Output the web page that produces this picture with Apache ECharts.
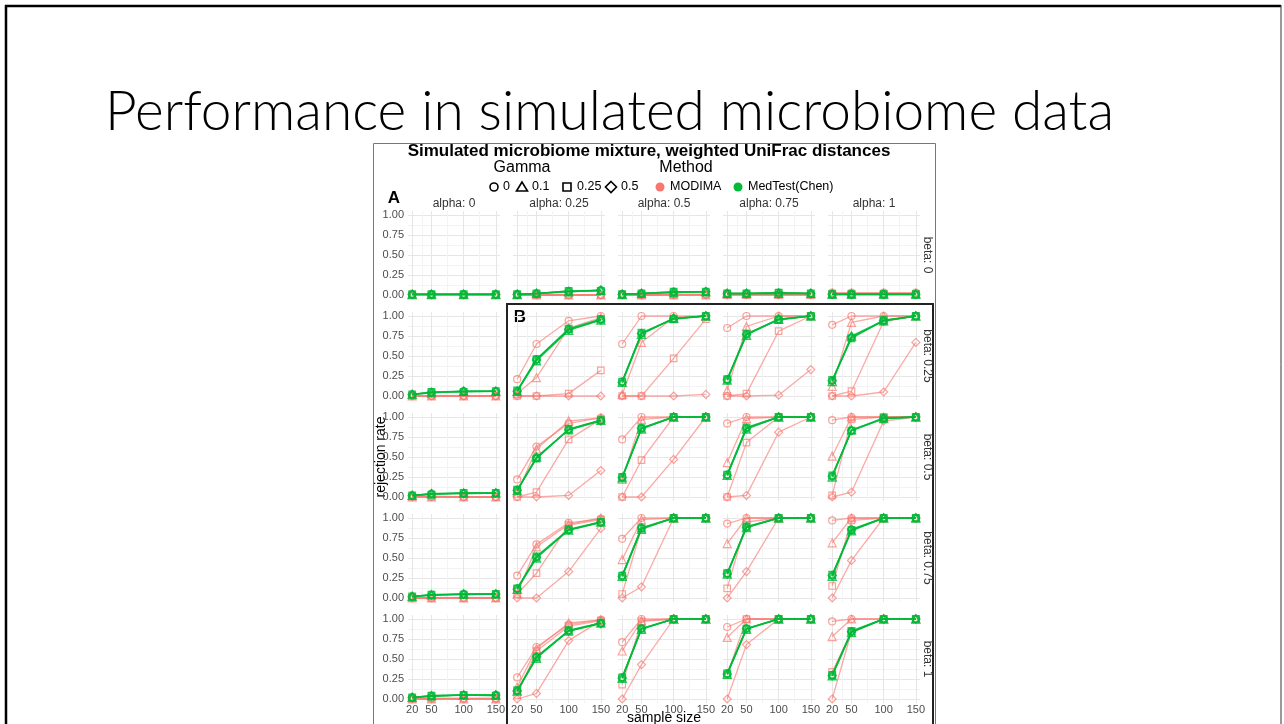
<!DOCTYPE html>
<html><head><meta charset="utf-8">
<script src="https://cdn.jsdelivr.net/npm/echarts@6/dist/echarts.min.js"></script>
<style>html,body{margin:0;padding:0;background:#fff}#c{width:1284px;height:724px}</style>
</head><body><div id="c"></div>
<script>
// ---------------- data ----------------
const sampleSizes = [20, 50, 100, 150];
const xMinorBreaks = [35, 75, 125];
const yTicks = [0, 0.25, 0.5, 0.75, 1];
const yMinorBreaks = [0.125, 0.375, 0.625, 0.875];
const alphaLabels = ['alpha: 0', 'alpha: 0.25', 'alpha: 0.5', 'alpha: 0.75', 'alpha: 1'];
const betaLabels = ['beta: 0', 'beta: 0.25', 'beta: 0.5', 'beta: 0.75', 'beta: 1'];
const gammaLevels = ['0', '0.1', '0.25', '0.5'];
const methodNames = ['MODIMA', 'MedTest(Chen)'];

// index: [alpha][gamma][sample size]
const modimaBeta0 = [
  [[0.00,0.00,0.00,0.00],[0.00,0.00,0.00,0.00],[0.00,0.00,0.00,0.00],[0.00,0.00,0.00,0.00]],
  [[0.00,0.00,0.00,0.00],[0.00,0.00,0.00,0.00],[0.00,0.00,0.00,0.00],[0.00,0.00,0.00,0.00]],
  [[0.01,0.00,0.01,0.01],[0.00,0.00,0.00,0.00],[0.00,0.00,0.00,0.00],[0.00,0.00,0.00,0.00]],
  [[0.01,0.01,0.01,0.01],[0.01,0.01,0.01,0.01],[0.00,0.00,0.00,0.00],[0.00,0.00,0.00,0.00]],
  [[0.03,0.03,0.03,0.03],[0.02,0.02,0.02,0.02],[0.01,0.01,0.01,0.01],[0.00,0.00,0.00,0.00]]
];
const medtestBeta0 = [
  [[0.01,0.01,0.01,0.01],[0.01,0.01,0.01,0.01],[0.01,0.01,0.01,0.01],[0.01,0.01,0.01,0.01]],
  [[0.01,0.02,0.05,0.06],[0.01,0.02,0.04,0.06],[0.01,0.02,0.05,0.05],[0.01,0.02,0.04,0.06]],
  [[0.01,0.02,0.04,0.04],[0.01,0.02,0.03,0.04],[0.01,0.02,0.04,0.04],[0.01,0.02,0.03,0.04]],
  [[0.02,0.02,0.03,0.02],[0.02,0.02,0.02,0.02],[0.02,0.02,0.03,0.02],[0.02,0.02,0.02,0.02]],
  [[0.01,0.01,0.01,0.01],[0.01,0.01,0.01,0.01],[0.01,0.01,0.01,0.01],[0.01,0.01,0.01,0.01]]
];
const modimaBeta025 = [
  [[0.00,0.00,0.00,0.00],[0.00,0.00,0.00,0.00],[0.00,0.00,0.00,0.00],[0.00,0.00,0.00,0.00]],
  [[0.21,0.65,0.94,1.00],[0.03,0.23,0.85,0.98],[0.00,0.00,0.03,0.32],[0.00,0.00,0.00,0.00]],
  [[0.65,1.00,1.00,1.00],[0.02,0.67,0.98,1.00],[0.00,0.00,0.47,0.96],[0.00,0.00,0.00,0.02]],
  [[0.85,1.00,1.00,1.00],[0.07,0.87,1.00,1.00],[0.00,0.03,0.81,1.00],[0.00,0.00,0.01,0.33]],
  [[0.89,1.00,1.00,1.00],[0.12,0.92,1.00,1.00],[0.00,0.06,0.93,1.00],[0.00,0.00,0.05,0.67]]
];
const medtestBeta025 = [
  [[0.02,0.05,0.06,0.06],[0.02,0.04,0.06,0.06],[0.02,0.05,0.05,0.06],[0.02,0.04,0.06,0.06]],
  [[0.06,0.46,0.83,0.96],[0.06,0.44,0.82,0.95],[0.07,0.46,0.84,0.96],[0.06,0.45,0.83,0.95]],
  [[0.18,0.78,0.97,1.00],[0.17,0.77,0.97,1.00],[0.18,0.79,0.96,1.00],[0.17,0.78,0.97,1.00]],
  [[0.21,0.77,0.96,1.00],[0.20,0.76,0.96,1.00],[0.21,0.78,0.95,1.00],[0.20,0.77,0.96,1.00]],
  [[0.19,0.73,0.94,1.00],[0.18,0.75,0.94,1.00],[0.20,0.72,0.95,1.00],[0.19,0.74,0.94,1.00]]
];
const modimaBeta05 = [
  [[0.01,0.01,0.00,0.00],[0.00,0.00,0.00,0.00],[0.00,0.00,0.00,0.00],[0.00,0.00,0.00,0.00]],
  [[0.22,0.63,0.92,0.99],[0.05,0.60,0.95,0.99],[0.00,0.06,0.72,0.97],[0.00,0.00,0.02,0.33]],
  [[0.72,1.00,1.00,1.00],[0.22,0.97,1.00,1.00],[0.00,0.46,1.00,1.00],[0.00,0.00,0.47,1.00]],
  [[0.92,1.00,1.00,1.00],[0.43,0.98,1.00,1.00],[0.00,0.68,1.00,1.00],[0.00,0.02,0.81,1.00]],
  [[0.96,1.00,1.00,1.00],[0.51,1.00,1.00,1.00],[0.02,0.97,1.00,1.00],[0.00,0.06,0.95,1.00]]
];
const medtestBeta05 = [
  [[0.02,0.04,0.05,0.05],[0.02,0.04,0.05,0.05],[0.02,0.03,0.05,0.05],[0.02,0.04,0.04,0.05]],
  [[0.09,0.49,0.84,0.96],[0.08,0.50,0.84,0.96],[0.09,0.48,0.85,0.96],[0.08,0.49,0.84,0.95]],
  [[0.25,0.86,1.00,1.00],[0.24,0.85,1.00,1.00],[0.25,0.86,1.00,1.00],[0.24,0.86,1.00,1.00]],
  [[0.28,0.86,1.00,1.00],[0.27,0.85,1.00,1.00],[0.28,0.87,1.00,1.00],[0.27,0.86,1.00,1.00]],
  [[0.26,0.83,0.98,1.00],[0.25,0.84,0.98,1.00],[0.27,0.83,0.99,1.00],[0.26,0.83,0.98,1.00]]
];
const modimaBeta075 = [
  [[0.00,0.00,0.00,0.00],[0.00,0.00,0.00,0.00],[0.00,0.00,0.00,0.00],[0.00,0.00,0.00,0.00]],
  [[0.28,0.67,0.94,0.99],[0.05,0.64,0.92,1.00],[0.05,0.31,0.91,0.98],[0.00,0.00,0.33,0.87]],
  [[0.74,1.00,1.00,1.00],[0.48,0.98,1.00,1.00],[0.05,0.87,1.00,1.00],[0.00,0.14,1.00,1.00]],
  [[0.93,1.00,1.00,1.00],[0.68,1.00,1.00,1.00],[0.12,0.95,1.00,1.00],[0.00,0.33,1.00,1.00]],
  [[0.97,1.00,1.00,1.00],[0.69,1.00,1.00,1.00],[0.15,0.97,1.00,1.00],[0.00,0.47,1.00,1.00]]
];
const medtestBeta075 = [
  [[0.02,0.04,0.05,0.05],[0.02,0.04,0.05,0.05],[0.02,0.04,0.04,0.05],[0.02,0.03,0.05,0.05]],
  [[0.12,0.51,0.85,0.95],[0.11,0.50,0.85,0.95],[0.12,0.52,0.86,0.95],[0.11,0.51,0.85,0.94]],
  [[0.28,0.87,1.00,1.00],[0.27,0.86,1.00,1.00],[0.28,0.87,1.00,1.00],[0.27,0.88,1.00,1.00]],
  [[0.31,0.89,1.00,1.00],[0.30,0.88,1.00,1.00],[0.31,0.89,1.00,1.00],[0.30,0.88,1.00,1.00]],
  [[0.28,0.85,1.00,1.00],[0.27,0.84,1.00,1.00],[0.29,0.85,1.00,1.00],[0.28,0.86,1.00,1.00]]
];
const modimaBeta1 = [
  [[0.01,0.01,0.01,0.01],[0.00,0.00,0.00,0.00],[0.00,0.00,0.00,0.00],[0.00,0.00,0.00,0.00]],
  [[0.27,0.65,0.93,0.99],[0.15,0.63,0.95,0.99],[0.05,0.60,0.91,0.98],[0.00,0.07,0.73,0.98]],
  [[0.71,1.00,1.00,1.00],[0.60,0.98,1.00,1.00],[0.18,0.97,1.00,1.00],[0.00,0.43,1.00,1.00]],
  [[0.90,1.00,1.00,1.00],[0.77,1.00,1.00,1.00],[0.30,1.00,1.00,1.00],[0.00,0.68,1.00,1.00]],
  [[0.97,1.00,1.00,1.00],[0.78,1.00,1.00,1.00],[0.34,0.84,1.00,1.00],[0.00,0.84,1.00,1.00]]
];
const medtestBeta1 = [
  [[0.02,0.04,0.05,0.05],[0.02,0.04,0.05,0.05],[0.02,0.04,0.05,0.04],[0.02,0.03,0.05,0.05]],
  [[0.10,0.52,0.85,0.95],[0.10,0.51,0.85,0.95],[0.11,0.52,0.86,0.95],[0.10,0.53,0.85,0.94]],
  [[0.27,0.88,1.00,1.00],[0.26,0.87,1.00,1.00],[0.27,0.88,1.00,1.00],[0.26,0.88,1.00,1.00]],
  [[0.32,0.88,1.00,1.00],[0.31,0.87,1.00,1.00],[0.32,0.88,1.00,1.00],[0.31,0.88,1.00,1.00]],
  [[0.30,0.84,1.00,1.00],[0.29,0.83,1.00,1.00],[0.30,0.85,1.00,1.00],[0.29,0.84,1.00,1.00]]
];

const modimaByBeta = [modimaBeta0, modimaBeta025, modimaBeta05, modimaBeta075, modimaBeta1];
const medtestByBeta = [medtestBeta0, medtestBeta025, medtestBeta05, medtestBeta075, medtestBeta1];

// ---------------- layout / style ----------------
const RED = '#F8766D', GREEN = '#00BA38';
const gammaSymbols = ['circle', 'triangle', 'rect', 'diamond'];
const gammaSymbolSize = [7, 8, 6.5, 8];
const P = { left0: 408, top0: 211, stepX: 105, stepY: 101, w: 92, h: 88 };
const FONT = 'Liberation Sans, Arial, sans-serif';

const grids = [], xAxes = [], yAxes = [], series = [];
for (let r = 0; r < 5; r++) {
  for (let c = 0; c < 5; c++) {
    const gi = r * 5 + c;
    grids.push({ left: P.left0 + c * P.stepX, top: P.top0 + r * P.stepY, width: P.w, height: P.h, containLabel: false });
    xAxes.push({
      gridIndex: gi, type: 'value', min: 13.5, max: 156.5,
      axisLine: { show: false }, axisTick: { show: false, customValues: sampleSizes },
      axisLabel: { show: r === 4, customValues: sampleSizes, color: '#4d4d4d', fontSize: 11, fontFamily: FONT, margin: 1 },
      splitLine: { show: true, lineStyle: { color: '#e6e6e6', width: 1 } }
    });
    xAxes.push({
      gridIndex: gi, type: 'value', min: 13.5, max: 156.5, position: 'bottom',
      axisLine: { show: false }, axisTick: { show: false, customValues: xMinorBreaks },
      axisLabel: { show: false, customValues: xMinorBreaks },
      splitLine: { show: true, lineStyle: { color: '#f3f3f3', width: 1 } }
    });
    yAxes.push({
      gridIndex: gi, type: 'value', min: -0.05, max: 1.05,
      axisLine: { show: false }, axisTick: { show: false, customValues: yTicks },
      axisLabel: { show: c === 0, customValues: yTicks, color: '#4d4d4d', fontSize: 11, fontFamily: FONT, margin: 4,
        formatter: v => Number(v).toFixed(2) },
      splitLine: { show: true, lineStyle: { color: '#e6e6e6', width: 1 } }
    });
    yAxes.push({
      gridIndex: gi, type: 'value', min: -0.05, max: 1.05, position: 'left',
      axisLine: { show: false }, axisTick: { show: false, customValues: yMinorBreaks },
      axisLabel: { show: false, customValues: yMinorBreaks },
      splitLine: { show: true, lineStyle: { color: '#f3f3f3', width: 1 } }
    });
    const methods = [modimaByBeta[r][c], medtestByBeta[r][c]];
    methods.forEach((m, mi) => {
      const col = mi === 0 ? RED : GREEN;
      m.forEach((vals, g) => {
        series.push({
          type: 'line', name: methodNames[mi] + ' ' + gammaLevels[g],
          xAxisIndex: gi * 2, yAxisIndex: gi * 2,
          data: sampleSizes.map((s, k) => [s, vals[k]]),
          symbol: gammaSymbols[g], symbolSize: gammaSymbolSize[g], showSymbol: true,
          lineStyle: { color: col, width: mi === 0 ? 1.3 : 1.5, opacity: mi === 0 ? 0.62 : 0.75 },
          itemStyle: { color: 'rgba(0,0,0,0)', borderColor: col, borderWidth: mi === 0 ? 1.2 : 1.4, opacity: mi === 0 ? 0.68 : 0.8 },
          silent: true, z: mi === 0 ? 2 : 3, animation: false
        });
      });
    });
  }
}

// ---------------- annotations ----------------
const T = (x, y, text, font, opts = {}) => Object.assign({
  type: 'text', x, y, silent: true,
  style: { text, font, fill: opts.fill || '#000', align: opts.align || 'center', verticalAlign: 'middle',
    textAlign: opts.align || 'center', textVerticalAlign: 'middle' }
}, opts.rotation !== undefined ? { rotation: opts.rotation } : {});

const graphics = [];
graphics.push({ type: 'line', shape: { x1: 5, y1: 6, x2: 1281, y2: 6 }, style: { stroke: '#000', lineWidth: 2.5 } });
graphics.push({ type: 'line', shape: { x1: 6, y1: 5, x2: 6, y2: 724 }, style: { stroke: '#000', lineWidth: 2.5 } });
graphics.push({ type: 'line', shape: { x1: 1281, y1: 5, x2: 1281, y2: 724 }, style: { stroke: '#333', lineWidth: 1 } });
graphics.push(T(105, 112, 'Performance in simulated microbiome data', '300 55px Lato, "Open Sans", sans-serif', { align: 'left' }));
graphics.push({ type: 'rect', shape: { x: 373.5, y: 143.5, width: 562, height: 600 }, style: { fill: 'none', stroke: '#777', lineWidth: 1 } });
graphics.push({ type: 'rect', shape: { x: 507, y: 304, width: 426, height: 440 }, style: { fill: 'none', stroke: '#222', lineWidth: 2 } });
graphics.push(T(649, 151, 'Simulated microbiome mixture, weighted UniFrac distances', 'bold 17px ' + FONT));
graphics.push(T(522, 168, 'Gamma', '16px ' + FONT));
graphics.push(T(686, 168, 'Method', '16px ' + FONT));
const LY = 187;
const LF = '12.5px ' + FONT;
graphics.push({ type: 'circle', shape: { cx: 494, cy: LY, r: 4 }, style: { fill: 'none', stroke: '#000', lineWidth: 1.6 } });
graphics.push(T(503, LY, '0', LF, { align: 'left' }));
graphics.push({ type: 'polygon', shape: { points: [[522, LY - 5], [516.5, LY + 4], [527.5, LY + 4]] }, style: { fill: 'none', stroke: '#000', lineWidth: 1.6 } });
graphics.push(T(532, LY, '0.1', LF, { align: 'left' }));
graphics.push({ type: 'rect', shape: { x: 563, y: LY - 4, width: 8, height: 8 }, style: { fill: 'none', stroke: '#000', lineWidth: 1.6 } });
graphics.push(T(577, LY, '0.25', LF, { align: 'left' }));
graphics.push({ type: 'polygon', shape: { points: [[611, LY - 5.5], [616.5, LY], [611, LY + 5.5], [605.5, LY]] }, style: { fill: 'none', stroke: '#000', lineWidth: 1.6 } });
graphics.push(T(621, LY, '0.5', LF, { align: 'left' }));
graphics.push({ type: 'circle', shape: { cx: 660, cy: LY, r: 4.5 }, style: { fill: RED } });
graphics.push(T(670, LY, 'MODIMA', LF, { align: 'left' }));
graphics.push({ type: 'circle', shape: { cx: 738, cy: LY, r: 4.5 }, style: { fill: GREEN } });
graphics.push(T(748, LY, 'MedTest(Chen)', LF, { align: 'left' }));
graphics.push(T(394, 198, 'A', 'bold 17px ' + FONT));
graphics.push(T(520, 317, 'B', 'bold 17px ' + FONT));
alphaLabels.forEach((t, c) => graphics.push(T(P.left0 + c * P.stepX + P.w / 2, 204, t, '12px ' + FONT, { fill: '#333' })));
betaLabels.forEach((t, r) => graphics.push(T(927, P.top0 + r * P.stepY + P.h / 2, t, '12px ' + FONT, { fill: '#333', rotation: -Math.PI / 2 })));
graphics.push(T(381, 457, 'rejection rate', '14px ' + FONT, { rotation: Math.PI / 2 }));
graphics.push(T(664, 718, 'sample size', '14px ' + FONT));

const chart = echarts.init(document.getElementById('c'), null, { renderer: 'canvas' });
chart.setOption({
  backgroundColor: '#fff', animation: false,
  grid: grids, xAxis: xAxes, yAxis: yAxes, series,
  graphic: { elements: graphics }
});
</script></body></html>
